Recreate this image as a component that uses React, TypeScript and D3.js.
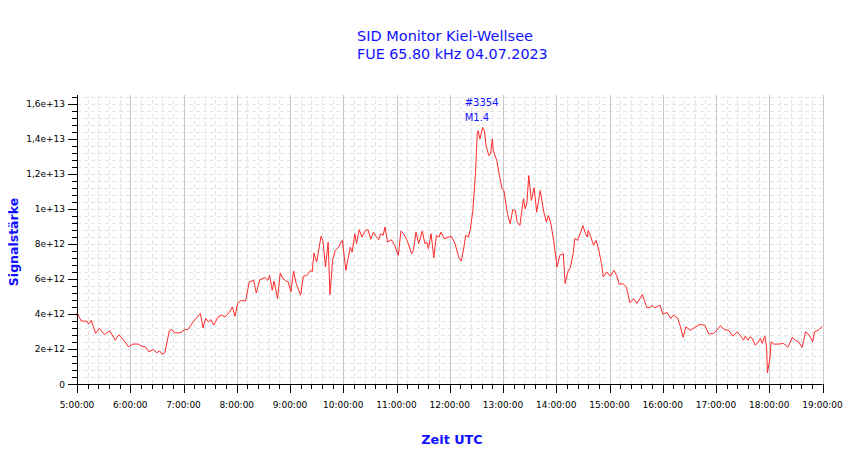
import React from 'react'
import * as d3 from 'd3'

// minutes after 05:00 UTC
const minuteOffsets = [
  0, 5, 11, 13, 16, 21, 25, 31, 37, 43, 47, 52, 58, 63, 69, 73, 77, 81, 86, 90,
  93, 96, 99, 104, 107, 110, 116, 122, 125, 131, 139, 142, 145, 148, 151, 154,
  159, 163, 167, 172, 175, 178, 181, 185, 190, 194, 199, 202, 206, 212, 215,
  217, 220, 222, 226, 229, 232, 236, 238, 241, 244, 247, 252, 255, 259, 263,
  265, 267, 270, 275, 277, 280, 283, 285, 288, 291, 295, 298, 299, 303, 305,
  308, 310, 313, 315, 318, 321, 325, 328, 331, 334, 337, 340, 342, 345, 347,
  350, 354, 358, 362, 365, 368, 372, 377, 379, 382, 385, 389, 392, 394, 396,
  399, 402, 405, 408, 410, 414, 419, 422, 426, 430, 433, 436, 438, 441, 443,
  446, 449, 451, 452, 454, 457, 459, 461, 464, 466, 468, 469, 473, 476, 479,
  481, 485, 488, 491, 494, 496, 499, 503, 505, 507, 509, 512, 515, 518, 522,
  526, 529, 531, 534, 537, 541, 544, 548, 550, 553, 556, 559, 561, 564, 567,
  570, 573, 575, 576, 579, 582, 585, 588, 591, 593, 597, 601, 605, 608, 611,
  615, 619, 623, 627, 631, 637, 642, 646, 648, 651, 657, 660, 665, 669, 672,
  677, 680, 683, 686, 691, 697, 702, 707, 712, 717, 721, 725, 729, 734, 739,
  744, 748, 751, 753, 756, 758, 761, 764, 767, 770, 772, 775, 777, 778, 781,
  782, 785, 791, 796, 801, 806, 810, 813, 817, 821, 825, 829, 831, 835, 840,
]

// signal strength in units of 1e12
const signal = [
  4.06, 3.59, 3.59, 3.42, 3.64, 2.89, 3.17, 2.83, 3.04, 2.5, 2.81, 2.54, 2.12,
  2.28, 2.28, 2.16, 2.12, 1.84, 1.97, 1.78, 1.9, 1.69, 1.78, 3.04, 3.11, 2.92,
  2.92, 3.11, 3.11, 3.55, 4.03, 3.21, 3.74, 3.55, 3.68, 3.36, 3.83, 3.93, 3.83,
  4.12, 4.4, 3.87, 4.6, 4.78, 4.74, 5.83, 5.92, 5.2, 5.96, 6.07, 5.92, 6.2,
  5.35, 5.88, 4.88, 6.34, 6.02, 5.88, 5.83, 5.26, 6.45, 5.73, 5.07, 6.15, 6.2,
  6.49, 6.4, 7.48, 6.96, 8.43, 8.2, 6.68, 8.1, 5.1, 7.06, 7.63, 7.82, 8.16, 8.2,
  6.49, 7.06, 7.82, 7.53, 8.58, 8.01, 8.81, 8.39, 8.77, 8.81, 8.26, 8.67, 8.43,
  8.24, 8.58, 8.49, 8.96, 8.1, 8.24, 7.92, 7.35, 8.73, 8.58, 8.2, 7.44, 7.63,
  8.67, 8.01, 8.73, 8.01, 8.1, 7.73, 8.58, 7.21, 8.49, 8.39, 8.67, 8.3, 8.39,
  8.43, 8.01, 7.25, 7.02, 7.82, 8.49, 8.39, 8.77, 9.91, 12.0, 14.37, 14.46,
  13.99, 14.65, 14.46, 13.6, 13.04, 13.13, 13.99, 13.33, 12.76, 11.9, 11.14,
  11.05, 9.72, 9.15, 9.95, 9.91, 9.24, 9.05, 10.58, 10.0, 10.38, 11.9, 10.48,
  11.2, 9.81, 11.05, 9.81, 9.24, 9.62, 9.15, 8.2, 6.68, 7.35, 7.44, 5.73, 6.4,
  6.68, 7.44, 8.3, 8.2, 8.58, 9.05, 8.58, 8.39, 8.77, 8.39, 7.92, 8.2, 7.63,
  6.87, 6.11, 6.4, 6.15, 6.49, 6.2, 5.69, 5.73, 5.54, 4.63, 4.88, 4.6, 5.11,
  4.37, 4.37, 4.5, 4.35, 4.5, 3.99, 4.08, 3.74, 3.93, 3.74, 3.26, 2.66, 3.26,
  3.07, 3.26, 3.4, 3.36, 2.85, 2.89, 3.07, 3.34, 3.11, 3.07, 2.73, 2.98, 2.73,
  2.5, 2.73, 2.5, 2.69, 2.6, 2.22, 2.35, 2.6, 2.32, 2.73, 2.12, 0.64, 1.55,
  2.41, 2.28, 2.28, 2.32, 2.09, 2.66, 2.47, 2.41, 2.09, 2.98, 2.79, 2.41, 2.98,
  3.07, 3.3,
]

const hourTicks = [5, 6, 7, 8, 9, 10, 11, 12, 13, 14, 15, 16, 17, 18, 19]
const yTicks = [0, 2, 4, 6, 8, 10, 12, 14, 16]
const yTickLabels = [
  '0', '2e+12', '4e+12', '6e+12', '8e+12', '1e+13', '1,2e+13', '1,4e+13', '1,6e+13',
]
const flareLabels = ['#3354', 'M1.4']
const flareMinute = 447

const BLUE = '#1010ff'
const FONT = '"DejaVu Sans", sans-serif'

const margin = { top: 95, right: 28, bottom: 75, left: 77 }
const W = 850
const H = 459

export default function App() {
  const x = d3
    .scaleLinear()
    .domain([0, 840])
    .range([margin.left, W - margin.right + 0.5])
  const y = d3
    .scaleLinear()
    .domain([0, 16.5])
    .range([384, margin.top])

  const line = d3
    .line<number>()
    .x((_, i) => x(minuteOffsets[i]))
    .y((d) => y(d))

  const minorX = d3.range(0, 841, 12).filter((m) => m % 60 !== 0)
  const minorY = d3.range(0.4, 16.5, 0.4)

  return (
    <svg
      width={W}
      height={H}
      style={{ position: 'absolute', left: 0, top: 0, background: '#fff' }}
    >
      {/* minor dashed grid */}
      {minorY.map((v) => (
        <line
          key={'gy' + v}
          x1={x(0)}
          x2={x(840)}
          y1={Math.round(y(v)) + 0.5}
          y2={Math.round(y(v)) + 0.5}
          stroke="#e4e4e4"
          strokeDasharray="4,3"
        />
      ))}
      {minorX.map((m) => (
        <line
          key={'gx' + m}
          x1={Math.round(x(m)) + 0.5}
          x2={Math.round(x(m)) + 0.5}
          y1={y(0)}
          y2={y(16.5)}
          stroke="#e4e4e4"
          strokeDasharray="4,3"
        />
      ))}
      {/* hourly grid */}
      {hourTicks.slice(1).map((h) => (
        <line
          key={'gh' + h}
          x1={Math.round(x((h - 5) * 60)) + 0.5}
          x2={Math.round(x((h - 5) * 60)) + 0.5}
          y1={y(0)}
          y2={y(16.5)}
          stroke="#c8c8c8"
        />
      ))}

      {/* data */}
      <path d={line(signal) ?? ''} fill="none" stroke="#ff2a2a" strokeWidth={1} />

      {/* axes */}
      <line x1={x(0) + 0.5} x2={x(0) + 0.5} y1={y(16.5)} y2={y(0)} stroke="#000" />
      <line x1={x(0)} x2={x(840)} y1={384.5} y2={384.5} stroke="#000" />
      {minorY.map((v) => (
        <line
          key={'ty' + v}
          x1={x(0) - 5}
          x2={x(0)}
          y1={Math.round(y(v)) + 0.5}
          y2={Math.round(y(v)) + 0.5}
          stroke="#000"
        />
      ))}
      {yTicks.map((v, i) => (
        <g key={'yl' + v}>
          <line
            x1={x(0) - 9}
            x2={x(0)}
            y1={Math.round(y(v)) + 0.5}
            y2={Math.round(y(v)) + 0.5}
            stroke="#000"
          />
          <text
            x={65}
            y={y(v) + 3.5}
            textAnchor="end"
            fontFamily={FONT}
            fontSize={9}
            fill="#000"
          >
            {yTickLabels[i]}
          </text>
        </g>
      ))}
      {minorX.map((m) => (
        <line
          key={'tx' + m}
          x1={Math.round(x(m)) + 0.5}
          x2={Math.round(x(m)) + 0.5}
          y1={384}
          y2={389}
          stroke="#000"
        />
      ))}
      {hourTicks.map((h) => (
        <g key={'xl' + h}>
          <line
            x1={Math.round(x((h - 5) * 60)) + 0.5}
            x2={Math.round(x((h - 5) * 60)) + 0.5}
            y1={384}
            y2={393}
            stroke="#000"
          />
          <text
            x={x((h - 5) * 60)}
            y={408}
            textAnchor="middle"
            fontFamily={FONT}
            fontSize={9}
            fill="#000"
          >
            {`${h}:00:00`}
          </text>
        </g>
      ))}

      {/* flare annotation */}
      {flareLabels.map((t, i) => (
        <text
          key={t}
          x={x(flareMinute) - 9}
          y={106 + i * 15}
          fontFamily={FONT}
          fontSize={10}
          fill={BLUE}
        >
          {t}
        </text>
      ))}

      {/* titles */}
      <text x={357} y={41} fontFamily={FONT} fontSize={14.5} fill={BLUE}>
        SID Monitor Kiel-Wellsee
      </text>
      <text x={357} y={59} fontFamily={FONT} fontSize={14.3} fill={BLUE}>
        FUE 65.80 kHz 04.07.2023
      </text>
      <text
        transform="translate(18,242) rotate(-90)"
        textAnchor="middle"
        fontFamily={FONT}
        fontSize={12.5}
        fontWeight="bold"
        fill={BLUE}
      >
        Signalstärke
      </text>
      <text
        x={452}
        y={444}
        textAnchor="middle"
        fontFamily={FONT}
        fontSize={12.8}
        fontWeight="bold"
        fill={BLUE}
      >
        Zeit UTC
      </text>
    </svg>
  )
}
